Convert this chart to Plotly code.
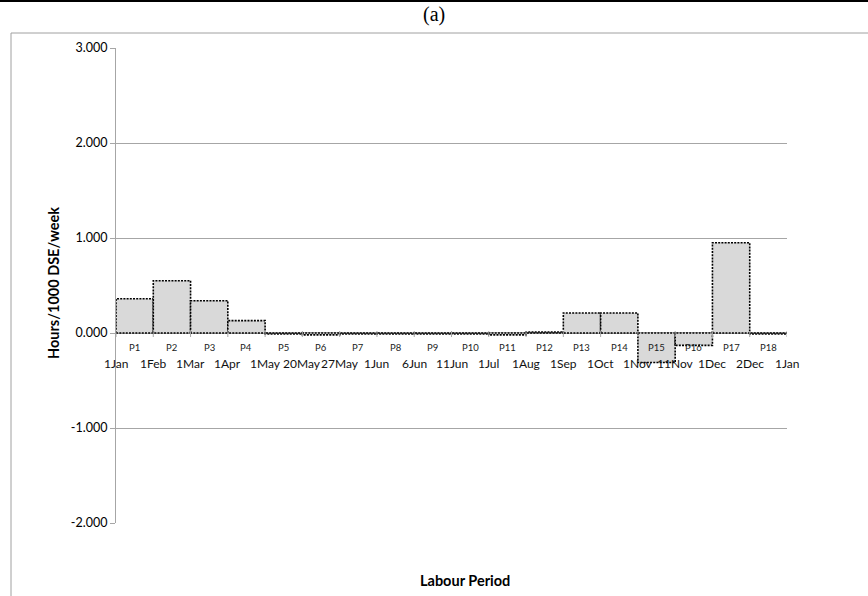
import plotly.graph_objects as go

# Labour periods, their boundary dates, and hours per 1000 DSE per week
periods = ["P1", "P2", "P3", "P4", "P5", "P6", "P7", "P8", "P9", "P10",
           "P11", "P12", "P13", "P14", "P15", "P16", "P17", "P18"]
boundary_dates = ["1Jan", "1Feb", "1Mar", "1Apr", "1May", "20May", "27May", "1Jun",
                  "6Jun", "11Jun", "1Jul", "1Aug", "1Sep", "1Oct", "1Nov", "11Nov",
                  "1Dec", "2Dec", "1Jan"]
hours = [0.36, 0.55, 0.34, 0.13, -0.01, -0.02, -0.01, -0.01, -0.01, -0.01,
         -0.02, 0.01, 0.21, 0.21, -0.31, -0.13, 0.95, -0.01]

y_ticks = [-2, -1, 0, 1, 2, 3]
y_tick_labels = ["-2.000", "-1.000", "0.000", "1.000", "2.000", "3.000"]

FONT = "Lato"
GRID = "#A6A6A6"

fig = go.Figure()

# Each period is a filled block spanning its slot, outlined with a dotted line
for i, v in enumerate(hours):
    fig.add_trace(go.Scatter(
        x=[i, i, i + 1, i + 1, i],
        y=[0, v, v, 0, 0],
        mode="lines",
        fill="toself",
        fillcolor="#D9D9D9",
        line=dict(color="black", width=1.6, dash="2px,1.2px"),
        hoverinfo="skip",
        showlegend=False,
    ))

# Category axis drawn along zero
fig.add_shape(type="line", xref="x", yref="y", x0=0, x1=len(periods), y0=0, y1=0,
              line=dict(color=GRID, width=1.3), layer="below")
for i in range(len(periods) + 1):
    fig.add_shape(type="line", xref="x", yref="y", xsizemode="scaled",
                  ysizemode="pixel", yanchor=0, x0=i, x1=i, y0=2, y1=-4,
                  line=dict(color=GRID, width=1))

annotations = []
for i, p in enumerate(periods):
    annotations.append(dict(x=i + 0.5, y=0, xref="x", yref="y", text=p,
                            showarrow=False, yshift=-14, xanchor="center", yanchor="middle",
                            font=dict(family=FONT, size=9.5, color="#222")))
for i, d in enumerate(boundary_dates):
    annotations.append(dict(x=i, y=0, xref="x", yref="y", text=d,
                            showarrow=False, yshift=-30, xanchor="center", yanchor="middle",
                            font=dict(family=FONT, size=12, color="#111")))

W, H = 868, 596
L, R, T, B = 116, 787, 48, 523
pw, ph = R - L, B - T


def px(xp):
    return (xp - L) / pw


def py(yp):
    return (B - yp) / ph


annotations += [
    dict(x=px(434), y=py(15), xref="paper", yref="paper", text="(a)", showarrow=False,
         xanchor="center", yanchor="middle",
         font=dict(family="Liberation Serif", size=20, color="black")),
    dict(x=px(53), y=py(283), xref="paper", yref="paper", text="<b>Hours/1000 DSE/week</b>",
         showarrow=False, textangle=-90, xanchor="center", yanchor="middle",
         font=dict(family=FONT, size=14.5, color="black")),
    dict(x=px(465), y=py(580), xref="paper", yref="paper", text="<b>Labour Period</b>",
         showarrow=False, xanchor="center", yanchor="middle",
         font=dict(family=FONT, size=14.5, color="black")),
]

shapes_extra = [
    # rule across the top of the page
    dict(type="line", xref="paper", yref="paper", x0=px(-10), x1=px(900),
         y0=py(1), y1=py(1), line=dict(color="black", width=2)),
    # chart frame
    dict(type="rect", xref="paper", yref="paper", x0=px(11), x1=px(1000),
         y0=py(700), y1=py(33), line=dict(color="#A0A0A0", width=1)),
]
for s in shapes_extra:
    fig.add_shape(**s)

fig.update_layout(
    width=W, height=H,
    margin=dict(l=L, r=W - R, t=T, b=H - B),
    paper_bgcolor="white", plot_bgcolor="white",
    annotations=annotations,
    xaxis=dict(range=[0, len(periods)], showticklabels=False, showgrid=False,
               zeroline=False, showline=False, fixedrange=True),
    yaxis=dict(range=[-2, 3], tickvals=y_ticks, ticktext=y_tick_labels,
               showgrid=True, gridcolor=GRID, gridwidth=1.2, zeroline=False,
               showline=True, linecolor=GRID, linewidth=1.2,
               ticks="outside", ticklen=5, tickcolor=GRID,
               tickfont=dict(family=FONT, size=12.5, color="black")),
    font=dict(family=FONT),
)

fig.write_html("out.html")
